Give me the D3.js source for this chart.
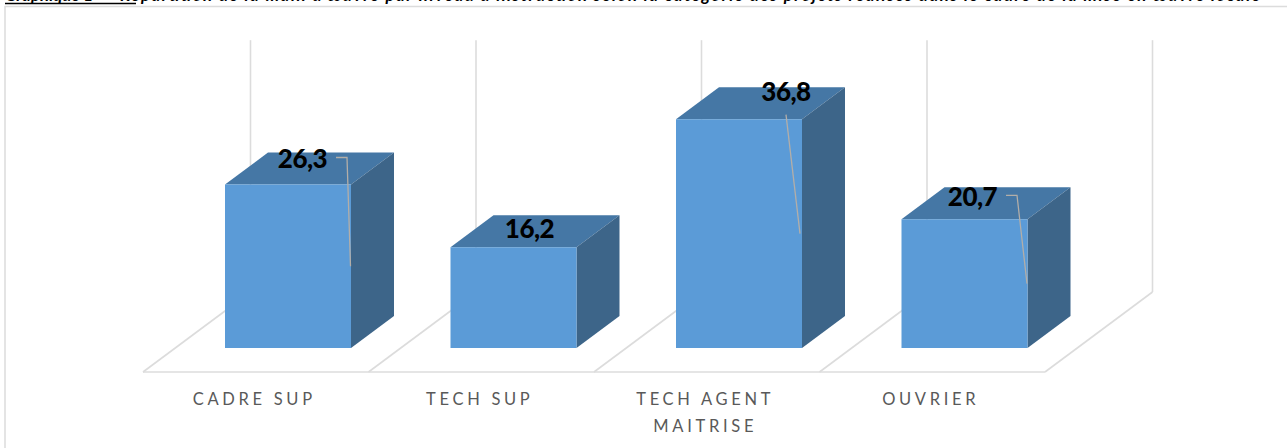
<!DOCTYPE html>
<html>
<head>
<meta charset="utf-8">
<script src="https://cdn.jsdelivr.net/npm/d3@7"></script>
<style>
  html, body { margin: 0; padding: 0; background: #fff; overflow: hidden; }
  svg { display: block; }
</style>
</head>
<body>
<svg id="chart"></svg>
<script>
const categories = ['CADRE SUP', 'TECH SUP', 'TECH AGENT MAITRISE', 'OUVRIER'];
const values = [26.3, 16.2, 36.8, 20.7];
const valueLabels = ['26,3', '16,2', '36,8', '20,7'];
const tickLabels = [['CADRE SUP'], ['TECH SUP'], ['TECH AGENT', 'MAITRISE'], ['OUVRIER']];

// the caption is cut off by the top of the image, its wording is only a best guess
const captionHead = 'Graphique 1';
const captionText = 'Répartition de la main d\'œuvre par niveau d\'instruction selon la catégorie des projets réalisés dans le cadre de la mise en œuvre locale';

// hand placed data labels, relative to the top front left corner of each bar
const labelOffsets = [[77.5, -16.5], [79, -9.5], [110, -18.5], [71, -13.5]];
// 'elbow' leaders start right of the text, 'straight' ones start under it
const leaderKinds = ['elbow', null, 'straight', 'elbow'];

const width = 1287;
const height = 448;
const floorDepth = { dx: 107.5, dy: 80 };
const barDepth = 0.4; // share of the floor depth
const barWidth = 126;

const svg = d3.select('#chart').attr('width', width).attr('height', height);

const xScale = d3.scaleBand().domain(categories).range([143, 1045]);
const yScale = d3.scaleLinear().domain([0, 40]).range([372, 123.3]);

// 3D projection: z = 0 is the front of the floor, z = 1 the back wall
const px = (x, z) => x + z * floorDepth.dx;
const py = (v, z) => yScale(v) - z * floorDepth.dy;
const point = (x, v, z) => [px(x, z), py(v, z)];
const poly = pts => pts.map(p => p.join(',')).join(' ');

// chart frame, only top and left are inside the crop
svg.append('path')
   .attr('d', `M5,${height} V6.5 H${width}`)
   .attr('fill', 'none')
   .attr('stroke', '#dcdcdc')
   .attr('stroke-width', 1.5);

// caption
const caption = svg.append('text')
   .attr('y', 0.5)
   .style('font-family', 'Lato')
   .style('font-weight', 'bold')
   .style('font-style', 'italic')
   .style('font-size', '17px');
caption.append('tspan').attr('x', 5).text(captionHead);
caption.append('tspan').attr('x', 120).attr('textLength', 1140).text(captionText);
svg.append('line')
   .attr('x1', 5).attr('x2', 136)
   .attr('y1', 3.5).attr('y2', 3.5)
   .attr('stroke', '#000')
   .attr('stroke-width', 1.5);

// floor and wall lines
const grid = svg.append('g')
   .attr('fill', 'none')
   .attr('stroke', '#dcdcdc')
   .attr('stroke-width', 1.6);

const floorTicks = categories.map(c => xScale(c)).concat(xScale.range()[1]);

grid.append('line')
   .attr('x1', xScale.range()[0]).attr('y1', py(0, 0))
   .attr('x2', xScale.range()[1]).attr('y2', py(0, 0));

grid.selectAll('.floor-line')
   .data(floorTicks)
   .enter().append('line')
   .attr('class', 'floor-line')
   .attr('x1', d => px(d, 0)).attr('y1', py(0, 0))
   .attr('x2', d => px(d, 1)).attr('y2', py(0, 1));

grid.selectAll('.wall-line')
   .data(floorTicks)
   .enter().append('line')
   .attr('class', 'wall-line')
   .attr('x1', d => px(d, 1)).attr('y1', py(0, 1))
   .attr('x2', d => px(d, 1)).attr('y2', py(40.5, 1));

// bars
const zFront = (1 - barDepth) / 2;
const zBack = zFront + barDepth;

const bars = svg.selectAll('.bar')
   .data(categories.map((c, i) => ({ c, v: values[i], i })))
   .enter().append('g')
   .attr('class', 'bar');

const x0 = d => xScale(d.c) + (xScale.bandwidth() - barWidth) / 2;

bars.append('polygon') // top
   .attr('fill', '#4577a5')
   .attr('points', d => poly([
     point(x0(d), d.v, zFront),
     point(x0(d) + barWidth, d.v, zFront),
     point(x0(d) + barWidth, d.v, zBack),
     point(x0(d), d.v, zBack)
   ]));

bars.append('polygon') // side
   .attr('fill', '#3d6589')
   .attr('points', d => poly([
     point(x0(d) + barWidth, 0, zFront),
     point(x0(d) + barWidth, d.v, zFront),
     point(x0(d) + barWidth, d.v, zBack),
     point(x0(d) + barWidth, 0, zBack)
   ]));

bars.append('polygon') // front
   .attr('fill', '#5b9bd7')
   .attr('points', d => poly([
     point(x0(d), 0, zFront),
     point(x0(d), d.v, zFront),
     point(x0(d) + barWidth, d.v, zFront),
     point(x0(d) + barWidth, 0, zFront)
   ]));

// leader lines, they end halfway up the front right edge of the bar
const leaderPath = d => {
  const kind = leaderKinds[d.i];
  const lx = px(x0(d), zFront) + labelOffsets[d.i][0];
  const ly = py(d.v, zFront) + labelOffsets[d.i][1];
  const endX = px(x0(d) + barWidth, zFront) - (kind === 'straight' ? 2 : 0.5);
  const endY = (py(d.v, zFront) + py(0, zFront)) / 2;
  if (kind === 'straight') return `M${lx},${ly + 14} L${endX},${endY}`;
  return `M${lx + 33.5},${ly - 10.5} H${lx + 44.5} L${endX},${endY}`;
};

bars.filter(d => leaderKinds[d.i])
   .append('path')
   .attr('d', leaderPath)
   .attr('fill', 'none')
   .attr('stroke', '#b3aea8')
   .attr('stroke-width', 1.3);

// data labels
bars.append('text')
   .attr('x', d => px(x0(d), zFront) + labelOffsets[d.i][0])
   .attr('y', d => py(d.v, zFront) + labelOffsets[d.i][1])
   .attr('text-anchor', 'middle')
   .style('font-family', 'Lato')
   .style('font-weight', 900)
   .style('font-size', '26px')
   .style('letter-spacing', '-0.5px')
   .style('fill', '#000')
   .text(d => valueLabels[d.i]);

// category axis
const xAxis = svg.append('g')
   .attr('transform', `translate(0,${py(0, 0)})`)
   .call(d3.axisBottom(xScale).tickSize(0).tickPadding(0));

xAxis.select('.domain').remove();

xAxis.selectAll('.tick text')
   .attr('y', 0)
   .attr('dy', 0)
   .style('font-family', 'Lato')
   .style('font-size', '16.5px')
   .style('letter-spacing', '3.7px')
   .style('fill', '#595959')
   .each(function (d) {
     const el = d3.select(this).text(null);
     tickLabels[categories.indexOf(d)].forEach((line, i) => {
       el.append('tspan')
         .attr('x', -1.5)
         .attr('y', 32.5 + i * 27)
         .text(line);
     });
   });
</script>
</body>
</html>
